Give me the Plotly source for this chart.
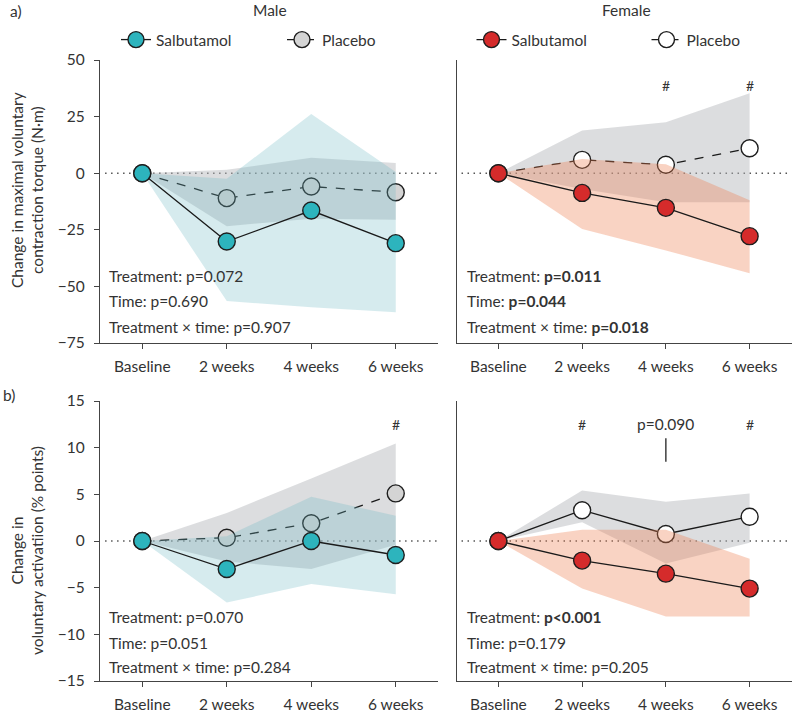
import plotly.graph_objects as go

# ---------------- data ----------------
categories = ["Baseline", "2 weeks", "4 weeks", "6 weeks"]

# a) maximal voluntary contraction torque (N·m)
male_mvc_salb = [0, -30.2, -16.5, -30.9]
male_mvc_salb_lo = [0, -56.5, -59.2, -61.4]
male_mvc_salb_hi = [0, -2.5, 26.2, 0.5]
male_mvc_plac = [0, -11.0, -5.9, -8.4]
male_mvc_plac_lo = [0, -23.4, -20.1, -20.6]
male_mvc_plac_hi = [0, 1.5, 6.8, 4.5]

female_mvc_salb = [0, -8.7, -15.3, -27.8]
female_mvc_salb_lo = [0, -24.6, -34.1, -44.2]
female_mvc_salb_hi = [0, 6.3, 3.9, -12.0]
female_mvc_plac = [0, 5.9, 3.7, 11.0]
female_mvc_plac_lo = [0, -7.0, -12.8, -12.8]
female_mvc_plac_hi = [0, 18.9, 22.5, 35.3]

# b) voluntary activation (% points)
male_va_salb = [0, -3.0, 0.0, -1.5]
male_va_salb_lo = [0, -6.6, -4.6, -5.7]
male_va_salb_hi = [0, 0.5, 4.75, 2.7]
male_va_plac = [0, 0.35, 1.9, 5.1]
male_va_plac_lo = [0, -2.2, -3.0, -0.4]
male_va_plac_hi = [0, 3.0, 6.7, 10.45]

female_va_salb = [0, -2.1, -3.5, -5.1]
female_va_salb_lo = [0, -5.1, -8.1, -8.1]
female_va_salb_hi = [0, 1.2, 1.2, -1.9]
female_va_plac = [0, 3.3, 0.75, 2.6]
female_va_plac_lo = [0, 2.0, -2.4, -0.2]
female_va_plac_hi = [0, 5.4, 4.2, 5.1]

mvc_ticks = [50, 25, 0, -25, -50, -75]
va_ticks = [15, 10, 5, 0, -5, -10, -15]

stats_a_male = ["Treatment: p=0.072", "Time: p=0.690", "Treatment × time: p=0.907"]
stats_a_female = ["Treatment: <b>p=0.011</b>", "Time: <b>p=0.044</b>", "Treatment × time: <b>p=0.018</b>"]
stats_b_male = ["Treatment: p=0.070", "Time: p=0.051", "Treatment × time: p=0.284"]
stats_b_female = ["Treatment: <b>p<0.001</b>", "Time: p=0.179", "Treatment × time: p=0.205"]

# ---------------- style ----------------
W, H = 796, 717
FONT = "Lato"
FS = 15.5
TXT = "#333333"
AX = "#444444"
EDGE = "#1e1e1e"
TEAL = "#2db4bd"
RED = "#d52b2b"
GREYM = "#d4d4d4"
BAND_TEAL = "rgba(108,182,195,0.28)"
BAND_RED = "rgba(236,125,80,0.34)"
BAND_GREY = "rgba(178,180,184,0.45)"


def px(x):
    return x / W


def py(y):
    return 1 - y / H


fig = go.Figure()


def band(xa, ya, lo, hi, color):
    fig.add_trace(go.Scatter(
        x=categories + categories[::-1], y=list(hi) + list(lo)[::-1],
        xaxis=xa, yaxis=ya, mode="lines", fill="toself", fillcolor=color,
        line=dict(width=0), hoverinfo="skip", showlegend=False))


def series(xa, ya, vals, color, dash, name):
    fig.add_trace(go.Scatter(
        x=categories, y=vals, xaxis=xa, yaxis=ya, mode="lines+markers", name=name,
        line=dict(color="#1a1a1a", width=1.3, dash=dash),
        marker=dict(size=17, color=color, line=dict(color=EDGE, width=1.4)),
        showlegend=False))


# top-left: male MVC
band("x", "y", male_mvc_plac_lo, male_mvc_plac_hi, BAND_GREY)
series("x", "y", male_mvc_plac, GREYM, "dash", "Placebo")
band("x", "y", male_mvc_salb_lo, male_mvc_salb_hi, BAND_TEAL)
series("x", "y", male_mvc_salb, TEAL, "solid", "Salbutamol")

# top-right: female MVC
band("x2", "y2", female_mvc_plac_lo, female_mvc_plac_hi, BAND_GREY)
series("x2", "y2", female_mvc_plac, "#ffffff", "dash", "Placebo")
band("x2", "y2", female_mvc_salb_lo, female_mvc_salb_hi, BAND_RED)
series("x2", "y2", female_mvc_salb, RED, "solid", "Salbutamol")

# bottom-left: male VA
band("x3", "y3", male_va_plac_lo, male_va_plac_hi, BAND_GREY)
series("x3", "y3", male_va_plac, GREYM, "dash", "Placebo")
band("x3", "y3", male_va_salb_lo, male_va_salb_hi, BAND_TEAL)
series("x3", "y3", male_va_salb, TEAL, "solid", "Salbutamol")

# bottom-right: female VA
band("x4", "y4", female_va_plac_lo, female_va_plac_hi, BAND_GREY)
series("x4", "y4", female_va_plac, "#ffffff", "solid", "Placebo")
band("x4", "y4", female_va_salb_lo, female_va_salb_hi, BAND_RED)
series("x4", "y4", female_va_salb, RED, "solid", "Salbutamol")

# legend-only traces (ordered Salbutamol, Placebo)
for leg, salb_col, plac_col in [("legend", TEAL, GREYM), ("legend2", RED, "#ffffff")]:
    for nm, col, dash in [("Salbutamol", salb_col, "solid"), ("Placebo", plac_col, "dash")]:
        fig.add_trace(go.Scatter(
            x=[None], y=[None], xaxis="x", yaxis="y", mode="lines+markers", name=nm,
            line=dict(color="#1a1a1a", width=1.3, dash=dash),
            marker=dict(size=17, color=col, line=dict(color=EDGE, width=1.4)),
            legend=leg, showlegend=True))

# ---------------- axes ----------------
xdom_l = [px(100), px(438)]
xdom_r = [px(456.5), px(791.5)]
ydom_t = [py(343), py(60)]
ydom_b = [py(681), py(401)]

xcommon = dict(type="category", categoryorder="array", categoryarray=categories,
               range=[-0.5, 3.5], showline=True, linecolor=AX, linewidth=1.2,
               ticks="outside", ticklen=5, tickcolor=AX, tickwidth=1.2,
               showgrid=False, zeroline=False, ticklabelstandoff=4,
               tickfont=dict(family=FONT, size=FS, color=TXT))
ycommon = dict(showline=True, linecolor=AX, linewidth=1.2, showgrid=False,
               zeroline=False, tickfont=dict(family=FONT, size=FS, color=TXT))
yleft = dict(ticks="outside", ticklen=5, tickcolor=AX, tickwidth=1.2, ticklabelstandoff=6)
yright = dict(ticks="", showticklabels=False)

fig.update_layout(
    xaxis=dict(domain=xdom_l, anchor="y", **xcommon),
    xaxis2=dict(domain=xdom_r, anchor="y2", **xcommon),
    xaxis3=dict(domain=xdom_l, anchor="y3", **xcommon),
    xaxis4=dict(domain=xdom_r, anchor="y4", **xcommon),
    yaxis=dict(domain=ydom_t, anchor="x", range=[-75, 50], tickvals=mvc_ticks, **ycommon, **yleft),
    yaxis2=dict(domain=ydom_t, anchor="x2", range=[-75, 50], **ycommon, **yright),
    yaxis3=dict(domain=ydom_b, anchor="x3", range=[-15, 15], tickvals=va_ticks, **ycommon, **yleft),
    yaxis4=dict(domain=ydom_b, anchor="x4", range=[-15, 15], **ycommon, **yright),
)

# zero dotted lines
for xa, ya in [("x", "y"), ("x2", "y2"), ("x3", "y3"), ("x4", "y4")]:
    fig.add_shape(type="line", xref=f"{xa} domain", yref=ya, x0=0.015, x1=1, y0=0, y1=0,
                  line=dict(color="#555555", width=1.4, dash="1.5px,4.5px"), layer="below")

annotations = []


def text(x, y, s, size=FS, xanchor="center", yanchor="middle", xref="paper", yref="paper", angle=0):
    annotations.append(dict(x=x, y=y, text=s, xref=xref, yref=yref, showarrow=False,
                            xanchor=xanchor, yanchor=yanchor, textangle=angle,
                            font=dict(family=FONT, size=size, color=TXT)))


# panel labels and titles
text(px(8), py(11), "a)", xanchor="left")
text(px(1), py(395), "b)", xanchor="left")
text(px(270), py(10), "Male")
text(px(626), py(10), "Female")

# y titles
text(px(27), py(190), "Change in maximal voluntary<br>contraction torque (N·m)", angle=-90)
text(px(27), py(551), "Change in<br>voluntary activatiion (% points)", angle=-90)

# stats text
stat_y_top = [0.237, 0.150, 0.058]
stat_y_bot = [0.230, 0.135, 0.049]
for lines, xa, ya, yy, x0 in [(stats_a_male, "x", "y", stat_y_top, 0.021),
                              (stats_a_female, "x2", "y2", stat_y_top, 0.025),
                              (stats_b_male, "x3", "y3", stat_y_bot, 0.021),
                              (stats_b_female, "x4", "y4", stat_y_bot, 0.025)]:
    for s, yv in zip(lines, yy):
        text(x0, yv, s, xanchor="left", xref=f"{xa} domain", yref=f"{ya} domain")

# significance marks
hash_a_y = 38.7
hash_b_y = 12.5
text("4 weeks", hash_a_y, "#", xref="x2", yref="y2", size=14)
text("6 weeks", hash_a_y, "#", xref="x2", yref="y2", size=14)
text("6 weeks", hash_b_y, "#", xref="x3", yref="y3", size=14)
text("2 weeks", hash_b_y, "#", xref="x4", yref="y4", size=14)
text("6 weeks", hash_b_y, "#", xref="x4", yref="y4", size=14)
text("4 weeks", hash_b_y, "p=0.090", xref="x4", yref="y4")
pline_top, pline_bot = 11.0, 8.5
idx4 = categories.index("4 weeks")
fig.add_shape(type="line", xref="x4", yref="y4", x0=idx4, x1=idx4, y0=pline_bot, y1=pline_top,
              line=dict(color="#222222", width=1.3))

legend_common = dict(orientation="h", yanchor="middle", font=dict(family=FONT, size=FS, color=TXT),
                     bgcolor="rgba(0,0,0,0)", borderwidth=0, entrywidthmode="pixels",
                     itemclick=False, itemdoubleclick=False, tracegroupgap=0)

fig.update_layout(
    width=W, height=H, margin=dict(l=0, r=0, t=0, b=0, autoexpand=False),
    paper_bgcolor="white", plot_bgcolor="white",
    annotations=annotations,
    legend=dict(x=px(116), y=py(40), xanchor="left", entrywidth=121, **legend_common),
    legend2=dict(x=px(471.5), y=py(40), xanchor="left", entrywidth=130, **legend_common),
    font=dict(family=FONT, size=FS, color=TXT),
)

fig.write_html("out.html", config={"displayModeBar": False},
               post_script="document.body.style.margin='0';")
